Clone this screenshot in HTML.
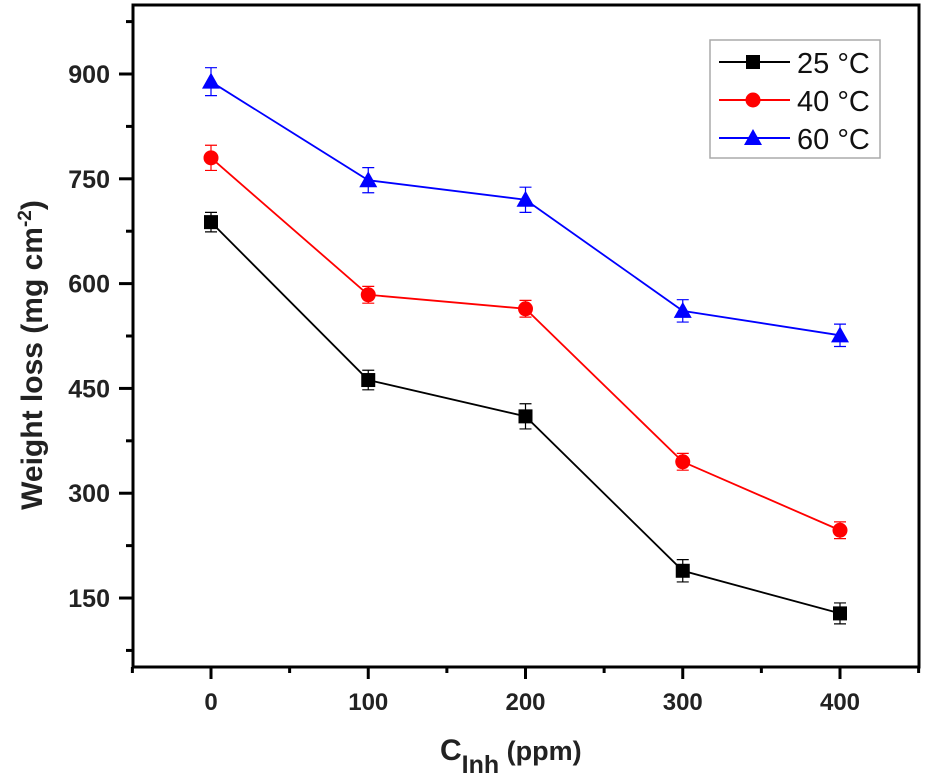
<!DOCTYPE html>
<html><head><meta charset="utf-8"><style>
html,body{margin:0;padding:0;background:#fff;}
svg{display:block;font-family:"Liberation Sans",Arial,sans-serif;}
</style></head><body>
<svg id="chart" width="926" height="782"></svg>
<script>
const categories=[0,100,200,300,400];
const series25=[688,462,410,189,128];
const series40=[780,584,564,345,247];
const series60=[889,748,720,561,526];
const errors25=[14,14,18,16,15];
const errors40=[18,12,12,12,12];
const errors60=[20,18,18,16,16];
const yTicks=[150,300,450,600,750,900];
const xTicks=[0,100,200,300,400];
const seriesLabels=["25 °C","40 °C","60 °C"];

const NS="http://www.w3.org/2000/svg";
const svg=document.getElementById('chart');
function X(v){return 211+v*1.5725;}
function Y(v){return 74+(900-v)*0.6987;}
function el(t,a,p){const e=document.createElementNS(NS,t);for(const k in a)e.setAttribute(k,a[k]);(p||svg).appendChild(e);return e;}
const L=133,R=919,T=5,B=667;
const frame=el('rect',{x:L,y:T,width:R-L,height:B-T,fill:'none',stroke:'#000','stroke-width':3});


yTicks.forEach(v=>{
  const t=el('line',{x1:L-14,x2:L,y1:Y(v),y2:Y(v),stroke:'#000','stroke-width':3});
  
  
  const m=el('line',{x1:L-7,x2:L,y1:Y(v-75),y2:Y(v-75),stroke:'#000','stroke-width':3});
  
  
  const tx=el('text',{x:L-23,y:Y(v)+9,'text-anchor':'end','font-size':25,'font-weight':'bold',fill:'#222'});
  tx.textContent=v;
  
  
});
{const m=el('line',{x1:L-7,x2:L,y1:Y(975),y2:Y(975),stroke:'#000','stroke-width':3});

}
xTicks.forEach(v=>{
  const t=el('line',{x1:X(v),x2:X(v),y1:B,y2:B+12,stroke:'#000','stroke-width':3});
  
  
  const tx=el('text',{x:X(v),y:710,'text-anchor':'middle','font-size':24,'font-weight':'bold',fill:'#222'});
  tx.textContent=v;
  
  
});
[-50,50,150,250,350,450].forEach(v=>{
  if(X(v)<L-1||X(v)>R+1)return;
  const m=el('line',{x1:X(v),x2:X(v),y1:B,y2:B+6,stroke:'#000','stroke-width':3});
  
  
});
const xt=el('text',{x:440,y:760,'font-size':30,'font-weight':'bold',fill:'#222'});
xt.innerHTML='C<tspan dy="13" font-size="25">Inh</tspan><tspan dy="-13" font-size="27"> (ppm)</tspan>';


const yt=el('text',{transform:'translate(42,355) rotate(-90)','text-anchor':'middle','font-size':30,'font-weight':'bold',fill:'#222'});
yt.innerHTML='Weight loss (mg cm<tspan dy="-11" font-size="19">-2</tspan><tspan dy="11">)</tspan>';


function marker(type,x,y,c,parent){
  let m;
  if(type==='sq')m=el('rect',{x:x-7,y:y-7,width:14,height:14,fill:c},parent);
  else if(type==='ci')m=el('circle',{cx:x,cy:y,r:7.5,fill:c},parent);
  else m=el('polygon',{points:`${x},${y-9} ${x+9},${y+7} ${x-9},${y+7}`,fill:c},parent);
  return m;
}
const all=[[series25,errors25,'#000','sq','series-25c'],[series40,errors40,'#ff0000','ci','series-40c'],[series60,errors60,'#0000ff','tr','series-60c']];
all.forEach(([vals,errs,c,type,name])=>{
  const g=el('g',{});
  
  
  const pl=el('polyline',{points:vals.map((v,i)=>X(categories[i])+','+Y(v)).join(' '),fill:'none',stroke:c,'stroke-width':1.8},g);
  
  
  vals.forEach((v,i)=>{
    const x=X(categories[i]);
    const e=el('path',{d:`M${x},${Y(v+errs[i])}V${Y(v-errs[i])}M${x-6},${Y(v+errs[i])}H${x+6}M${x-6},${Y(v-errs[i])}H${x+6}`,stroke:c,'stroke-width':1.2,fill:'none'},g);
    
    
    const m=marker(type,x,Y(v),c,g);
    
    
  });
});
const lg=el('g',{});


el('rect',{x:710,y:40,width:170,height:118,fill:'#fff',stroke:'#aaa','stroke-width':1.5},lg);
all.forEach(([v,e,c,type,name],i)=>{
  const y=62+i*38;
  const g=el('g',{},lg);
  
  
  el('line',{x1:719,x2:790,y1:y,y2:y,stroke:c,'stroke-width':2},g);
  marker(type,753,y,c,g);
  const t=el('text',{x:797,y:y+11,'font-size':29,fill:'#111'},g);
  t.textContent=seriesLabels[i];
});
</script>
</body></html>
